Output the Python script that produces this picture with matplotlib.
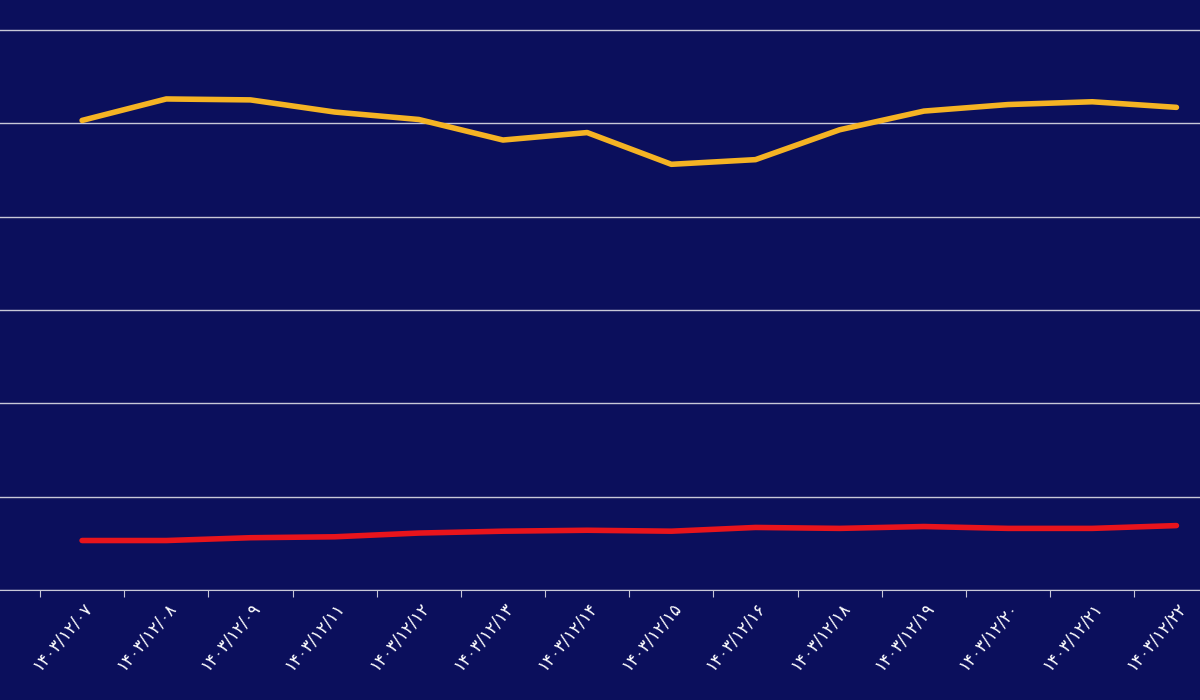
import matplotlib
matplotlib.use("Agg")
import matplotlib.pyplot as plt
import numpy as np

dates = ["۱۴۰۳/۱۲/۰۷", "۱۴۰۳/۱۲/۰۸", "۱۴۰۳/۱۲/۰۹", "۱۴۰۳/۱۲/۱۱", "۱۴۰۳/۱۲/۱۲",
         "۱۴۰۳/۱۲/۱۳", "۱۴۰۳/۱۲/۱۴", "۱۴۰۳/۱۲/۱۵", "۱۴۰۳/۱۲/۱۶", "۱۴۰۳/۱۲/۱۸",
         "۱۴۰۳/۱۲/۱۹", "۱۴۰۳/۱۲/۲۰", "۱۴۰۳/۱۲/۲۱", "۱۴۰۳/۱۲/۲۲"]
yellow = [5.03, 5.26, 5.25, 5.12, 5.04, 4.82, 4.90, 4.56, 4.61, 4.93, 5.13, 5.20, 5.23, 5.17]
red = [0.53, 0.53, 0.56, 0.57, 0.61, 0.63, 0.64, 0.63, 0.67, 0.66, 0.68, 0.66, 0.66, 0.69]

bg = "#0b0f5c"
fig = plt.figure(figsize=(12, 7), dpi=100, facecolor=bg)
ax = fig.add_axes([0, 110 / 700, 1, 590 / 700], facecolor=bg)
x = np.arange(len(dates))
ax.plot(x, yellow, color="#f5b324", lw=4, solid_joinstyle="round", solid_capstyle="round")
ax.plot(x, red, color="#e8141c", lw=4, solid_joinstyle="round", solid_capstyle="round")

ax.set_xlim(-0.975, 13.28)
ax.set_ylim(0, 6.32)
ax.set_yticks(range(0, 7))
ax.yaxis.grid(True, color="#c8c8d8", lw=1)
ax.tick_params(axis="y", left=False, labelleft=False)
# tick marks at category boundaries, labels at category centres
ax.set_xticks(x - 0.5)
ax.set_xticklabels([])
ax.set_xticks(x, minor=True)
ax.set_xticklabels(dates, minor=True, rotation=50, ha="right", rotation_mode="anchor",
                   color="white", fontsize=12, family=["DejaVu Sans"])
ax.tick_params(axis="x", which="major", colors="#c8c8d8", length=5)
ax.tick_params(axis="x", which="minor", length=0, pad=6)
for s in ["top", "right", "left"]:
    ax.spines[s].set_visible(False)
ax.spines["bottom"].set_color("#c8c8d8")

fig.savefig("out.png", dpi=100, facecolor=bg)
